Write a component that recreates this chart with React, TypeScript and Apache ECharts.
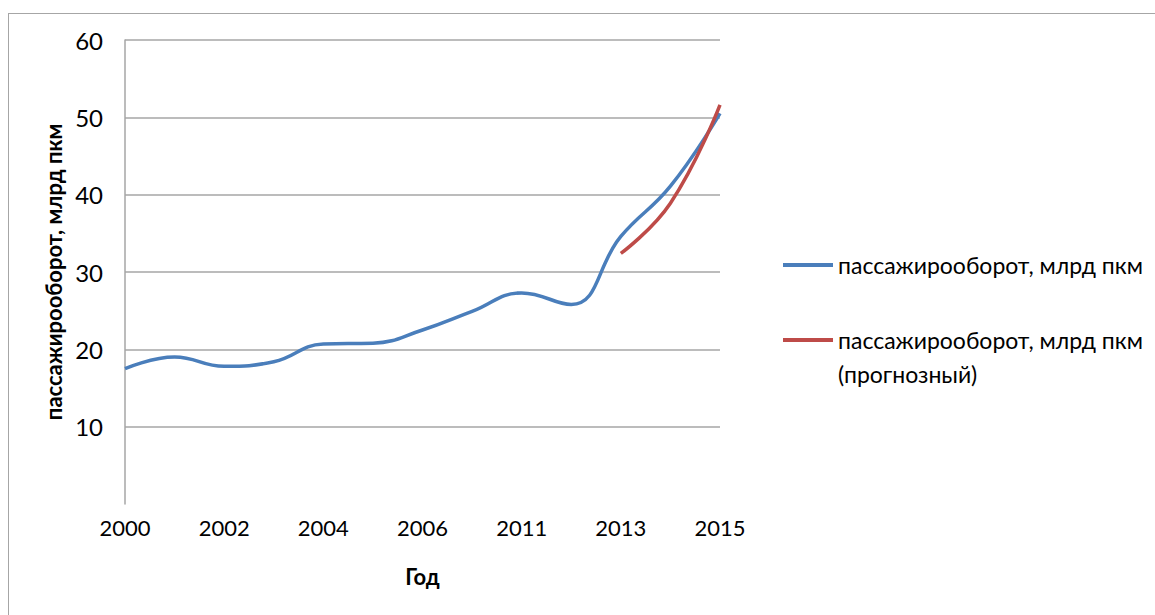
import React, { useEffect, useRef } from "react";
import * as echarts from "echarts";

// Years on the category axis (only every other one gets a label)
const years = [
  "2000", "2001", "2002", "2003", "2004", "2005", "2006",
  "2010", "2011", "2012", "2013", "2014", "2015",
];

// Passenger turnover, bn passenger-km (actual)
const actual = [17.5, 19.0, 17.8, 18.4, 20.7, 20.8, 22.5, 24.9, 27.3, 25.8, 34.6, 41.1, 50.5];

// Forecast values, only for the last three years
const forecast = [null, null, null, null, null, null, null, null, null, null, 32.4, 38.9, 51.6];

const yTicks = [0, 60, 10]; // min, max, interval

const seriesNames = [
  "пассажирооборот, млрд пкм",
  "пассажирооборот, млрд пкм\n(прогнозный)",
];

const FONT = "Lato, 'Open Sans', sans-serif";

export default function App() {
  const ref = useRef<HTMLDivElement>(null);

  useEffect(() => {
    if (!ref.current) return;
    const chart = echarts.init(ref.current, null, { renderer: "svg" });
    chart.setOption({
      animation: false,
      backgroundColor: "#fff",
      textStyle: { fontFamily: FONT },
      grid: { left: 117, top: 32, width: 595, height: 464 },
      legend: {
        orient: "vertical",
        left: 770,
        top: 235,
        itemWidth: 50,
        itemHeight: 4,
        itemGap: 7,
        icon: "rect",
        data: seriesNames,
        // a leading blank line keeps the swatch level with the first text line
        formatter: (name: string) => (name.includes("\n") ? "\n" + name : name),
        textStyle: {
          fontFamily: FONT,
          fontSize: 23,
          color: "#000",
          lineHeight: 34,
        },
      },
      xAxis: {
        type: "category",
        data: years,
        boundaryGap: false,
        axisLine: { show: false },
        axisTick: { show: false },
        axisLabel: {
          interval: 1,
          margin: 12,
          fontSize: 22,
          color: "#000",
          fontFamily: FONT,
        },
        name: "Год",
        nameLocation: "middle",
        nameGap: 61,
        nameTextStyle: { fontSize: 22, fontWeight: "bold", color: "#000", fontFamily: FONT },
      },
      yAxis: {
        type: "value",
        min: yTicks[0],
        max: yTicks[1],
        interval: yTicks[2],
        axisLine: { show: true, lineStyle: { color: "#a6a6a6", width: 1.5 } },
        axisTick: { show: false },
        axisLabel: {
          margin: 22,
          fontSize: 24,
          color: "#000",
          fontFamily: FONT,
          formatter: (v: number) => (v === 0 ? "" : String(v)),
        },
        splitLine: {
          show: true,
          showMinLine: false,
          lineStyle: { color: "#a6a6a6", width: 1.5 },
        },
        name: "пассажирооборот, млрд пкм",
        nameLocation: "middle",
        nameGap: 61,
        nameTextStyle: { fontSize: 22, fontWeight: "bold", color: "#000", fontFamily: FONT },
      },
      series: [
        {
          name: seriesNames[0],
          type: "line",
          data: actual,
          smooth: 0.45,
          showSymbol: false,
          lineStyle: { color: "#4a7ebb", width: 3.5 },
          itemStyle: { color: "#4a7ebb" },
        },
        {
          name: seriesNames[1],
          type: "line",
          data: forecast,
          smooth: 0.45,
          showSymbol: false,
          lineStyle: { color: "#be4b48", width: 3.5 },
          itemStyle: { color: "#be4b48" },
        },
      ],
    });
    return () => chart.dispose();
  }, []);

  return (
    <>
      <div
        ref={ref}
        style={{ position: "fixed", left: 8, top: 8, width: 1147, height: 607 }}
      />
      {/* chart frame: left and top edges; the rest runs past the view */}
      <div
        style={{
          position: "fixed",
          left: 8,
          top: 13,
          width: 2000,
          height: 2000,
          borderLeft: "1.5px solid #a6a6a6",
          borderTop: "1.5px solid #a6a6a6",
          pointerEvents: "none",
        }}
      />
    </>
  );
}
